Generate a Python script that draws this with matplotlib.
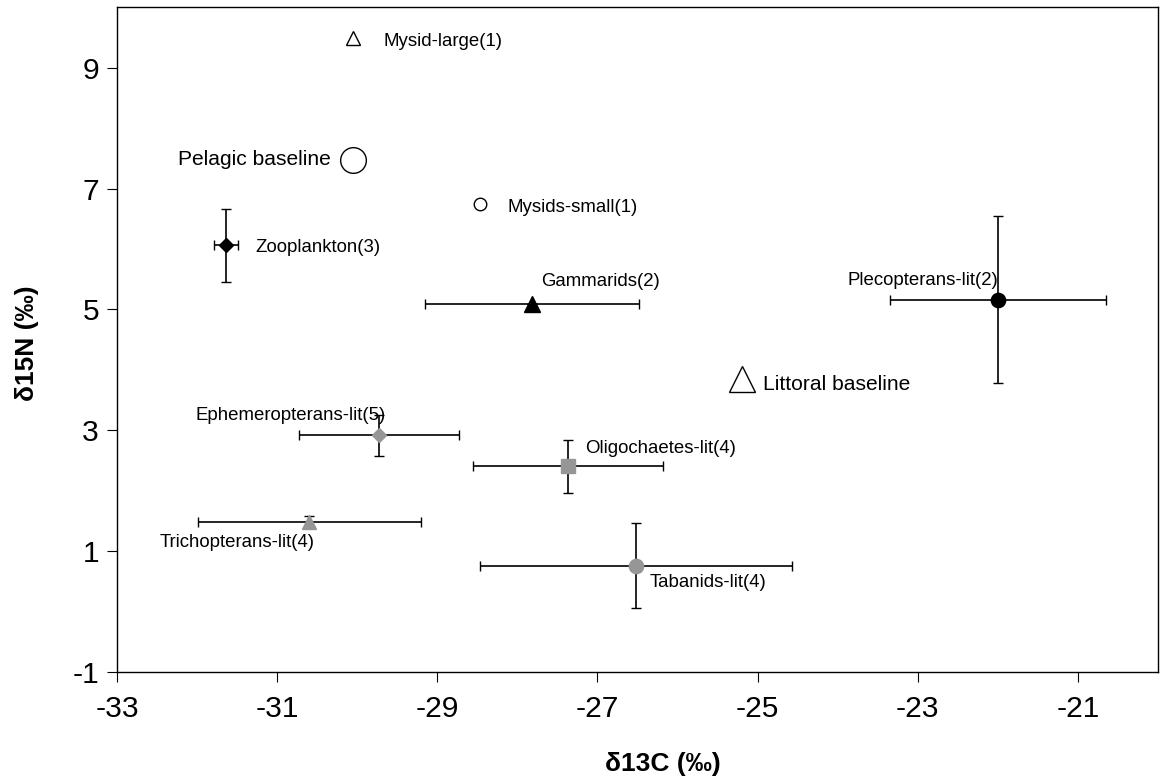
import matplotlib
matplotlib.use("Agg")
import matplotlib.pyplot as plt


plt.rcParams.update({
    "font.family": ["Liberation Sans", "DejaVu Sans"],
    "axes.linewidth": 1.0,
    "xtick.direction": "out",
    "ytick.direction": "out",
    "xtick.major.size": 7,
    "ytick.major.size": 7,
})

# mean isotope values with SD per group
groups = [
    "Mysid-large(1)", "Pelagic baseline", "Mysids-small(1)", "Zooplankton(3)",
    "Gammarids(2)", "Plecopterans-lit(2)", "Littoral baseline",
    "Ephemeropterans-lit(5)", "Trichopterans-lit(4)", "Oligochaetes-lit(4)",
    "Tabanids-lit(4)",
]
d13c = [-30.05, -30.05, -28.47, -31.64, -27.82, -22.0, -25.2, -29.73, -30.6, -27.37, -26.52]
d15n = [9.5, 7.47, 6.75, 6.06, 5.09, 5.16, 3.85, 2.91, 1.48, 2.40, 0.755]
d13c_sd = [0, 0, 0, 0.146, 1.34, 1.35, 0, 1.0, 1.39, 1.19, 1.95]
d15n_sd = [0, 0, 0, 0.6, 0, 1.38, 0, 0.34, 0.1, 0.44, 0.71]
has_err = [False, False, False, True, True, True, False, True, True, True, True]

x_ticks = [-33, -31, -29, -27, -25, -23, -21]
y_ticks = [-1, 1, 3, 5, 7, 9]

GREY = "#969696"

# marker, size (pt), face colour, edge colour
STYLE = {
    "Mysid-large(1)": ("^", 10, "white", "black"),
    "Pelagic baseline": ("o", 18.5, "white", "black"),
    "Mysids-small(1)": ("o", 9, "white", "black"),
    "Zooplankton(3)": ("D", 7.2, "black", "black"),
    "Gammarids(2)": ("^", 11, "black", "black"),
    "Plecopterans-lit(2)": ("o", 10.3, "black", "black"),
    "Littoral baseline": ("^", 19.4, "white", "black"),
    "Ephemeropterans-lit(5)": ("D", 7.2, GREY, GREY),
    "Trichopterans-lit(4)": ("^", 10.5, GREY, GREY),
    "Oligochaetes-lit(4)": ("s", 10.5, GREY, GREY),
    "Tabanids-lit(4)": ("o", 10.3, GREY, GREY),
}

# label offset in pixels from the point, horizontal alignment, font size
LABEL = {
    "Mysid-large(1)": (30, -8.5, "left", 13.4),
    "Pelagic baseline": (-23, -5, "right", 15.1),
    "Mysids-small(1)": (28, -8.3, "left", 13.4),
    "Zooplankton(3)": (29, -7, "left", 13.4),
    "Gammarids(2)": (9, 18, "left", 13.4),
    "Plecopterans-lit(2)": (0, 14.3, "right", 13.4),
    "Littoral baseline": (21.5, -11, "left", 15.1),
    "Ephemeropterans-lit(5)": (7, 15, "right", 13.4),
    "Trichopterans-lit(4)": (5.7, -25, "right", 13.4),
    "Oligochaetes-lit(4)": (17.7, 13.4, "left", 13.4),
    "Tabanids-lit(4)": (13.3, -21.6, "left", 13.4),
}


def main():
    fig = plt.figure(figsize=(11.6, 7.83), dpi=100)
    ax = fig.add_axes([0.1009, 0.1424, 0.8974, 0.8481])

    for name, x, y, xs, ys, err in zip(groups, d13c, d15n, d13c_sd, d15n_sd, has_err):
        if err:
            ax.errorbar(x, y, xerr=xs, yerr=ys, fmt="none", ecolor="black",
                        elinewidth=1.2, capsize=3.9, capthick=1.0, zorder=2)
        marker, ms, fc, ec = STYLE[name]
        ax.plot(x, y, marker=marker, ms=ms, mfc=fc, mec=ec, mew=1.0,
                ls="none", zorder=3)
        dx, dy, ha, fs = LABEL[name]
        ax.annotate(name, (x, y), xytext=(dx, dy), textcoords="offset pixels",
                    ha=ha, va="baseline", fontsize=fs, zorder=4)

    ax.set_xlim(-33, -20)
    ax.set_ylim(-1, 10)
    ax.set_xticks(x_ticks)
    ax.set_yticks(y_ticks)
    ax.set_xticklabels([str(t) for t in x_ticks])
    ax.set_yticklabels([str(t) for t in y_ticks])
    ax.tick_params(axis="x", labelsize=21.6, pad=10)
    ax.tick_params(axis="y", labelsize=21.6, pad=6)

    ax.set_xlabel("δ13C (‰)", fontsize=19, fontweight="bold")
    ax.xaxis.set_label_coords(0.524, -0.1498)
    ax.xaxis.label.set_va("baseline")

    ax.set_ylabel("δ15N (‰)", fontsize=19, fontweight="bold")
    ax.yaxis.set_label_coords(-0.0797, 0.494)
    ax.yaxis.label.set_va("baseline")

    fig.savefig("out.png", dpi=100)


if __name__ == "__main__":
    main()
